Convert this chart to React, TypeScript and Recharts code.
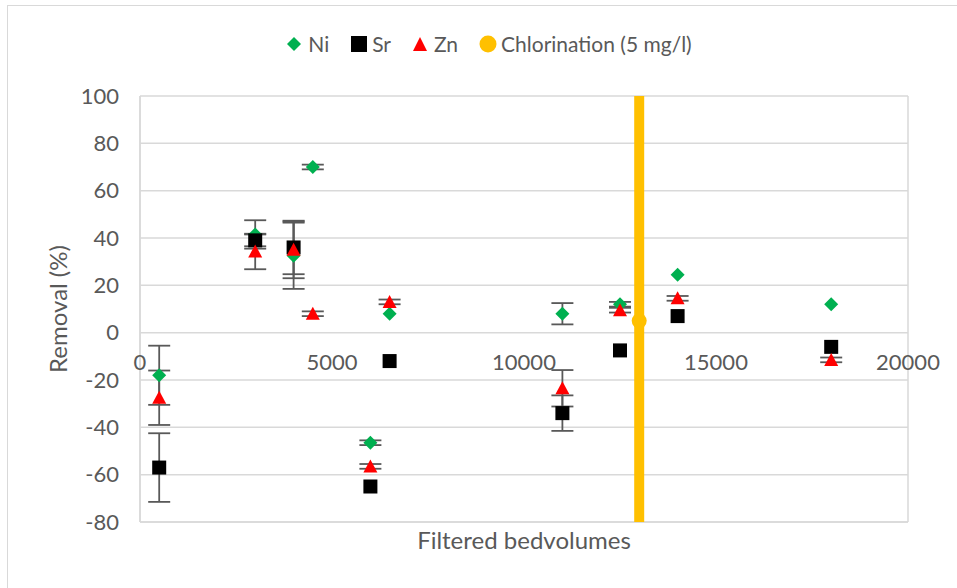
import {
  ScatterChart,
  Scatter,
  XAxis,
  YAxis,
  CartesianGrid,
  ErrorBar,
  ReferenceDot,
} from 'recharts'

// bedvolumes / removal (%) / error (%)
const niBV = [500, 3000, 4000, 4500, 6000, 6500, 11000, 12500, 14000, 18000]
const niRemoval = [-18, 41.5, 32.5, 70, -46.5, 8, 8, 12, 24.5, 12]
const niError = [12.5, 6, 14, 1, 1, 0, 4.5, 1, 0, 0]

const srBV = [500, 3000, 4000, 6000, 6500, 11000, 12500, 14000, 18000]
const srRemoval = [-57, 39, 36, -65, -12, -34, -7.5, 7, -6]
const srError = [14.5, 2.5, 11.3, 0, 0, 7.5, 0, 0, 0]

const znBV = [500, 3000, 4000, 4500, 6000, 6500, 11000, 12500, 14000, 18000]
const znRemoval = [-27.5, 34.3, 35, 8, -56.5, 13, -23.5, 9.5, 14.5, -11.5]
const znError = [11.5, 7.5, 12, 1, 1, 1, 7.7, 1, 1, 1]

const chlorBV = [13000, 13000]
const chlorSpan = [-80, 100]
const chlorMarkBV = [13000]
const chlorMarkRemoval = [5]

const bvTicks = [0, 5000, 10000, 15000, 20000]
const removalTicks = [-80, -60, -40, -20, 0, 20, 40, 60, 80, 100]

const FONT = 'Lato, "Open Sans", sans-serif'
const TEXT = '#595959'
const GRID = '#d9d9d9'

const rows = (xs: number[], ys: number[], es?: number[]) =>
  xs.map((x, i) => ({ x, y: ys[i], err: es ? es[i] : 0 }))

const niData = rows(niBV, niRemoval, niError)
const srData = rows(srBV, srRemoval, srError)
const znData = rows(znBV, znRemoval, znError)
const chlorLine = rows(chlorBV, chlorSpan)
const chlorMark = rows(chlorMarkBV, chlorMarkRemoval)

const Diamond = ({ cx, cy }: any) => (
  <polygon points={`${cx},${cy - 7} ${cx + 7},${cy} ${cx},${cy + 7} ${cx - 7},${cy}`} fill="#00B050" />
)
const Square = ({ cx, cy }: any) => <rect x={cx - 7} y={cy - 7} width={14} height={14} fill="#000000" />
const Triangle = ({ cx, cy }: any) => (
  <polygon points={`${cx},${cy - 7} ${cx + 7},${cy + 6} ${cx - 7},${cy + 6}`} fill="#FF0000" />
)
const Circle = ({ cx, cy }: any) => <circle cx={cx} cy={cy} r={7.5} fill="#FFC000" />
const Nothing = () => <g />

const XTickLabel = ({ viewBox, value }: any) => (
  <text
    x={viewBox.x + viewBox.width / 2}
    y={viewBox.y + 37}
    textAnchor="middle"
    fill={TEXT}
    fontSize={22}
    fontFamily={FONT}
  >
    {value}
  </text>
)

const legendItems = [
  { name: 'Ni', icon: <polygon points="7,1 14,8 7,15 0,8" fill="#00B050" /> },
  { name: 'Sr', icon: <rect x={0} y={0} width={16} height={16} fill="#000" /> },
  { name: 'Zn', icon: <polygon points="7,1 14,15 0,15" fill="#FF0000" /> },
  { name: 'Chlorination (5 mg/l)', icon: <circle cx={8} cy={8} r={8.5} fill="#FFC000" /> },
]

export default function App() {
  return (
    <div
      style={{
        position: 'absolute',
        left: 0,
        top: 0,
        width: 957,
        height: 588,
        overflow: 'hidden',
        background: '#fff',
        fontFamily: FONT,
      }}
    >
      <div
        style={{
          position: 'absolute',
          left: 7,
          top: 5,
          width: 1000,
          height: 700,
          border: `1.5px solid ${GRID}`,
        }}
      />
      <div
        style={{
          position: 'absolute',
          top: 30,
          left: 0,
          width: 957,
          display: 'flex',
          justifyContent: 'center',
          gap: 22,
          color: TEXT,
          fontSize: 21,
          lineHeight: '28px',
          paddingLeft: 22,
          boxSizing: 'border-box',
        }}
      >
        {legendItems.map((it) => (
          <div key={it.name} style={{ display: 'flex', alignItems: 'center', gap: 5 }}>
            <svg width={16} height={16} style={{ overflow: 'visible' }}>
              {it.icon}
            </svg>
            <span>{it.name}</span>
          </div>
        ))}
      </div>
      <ScatterChart
        width={957}
        height={588}
        margin={{ top: 96, right: 49, bottom: 0, left: 80 }}
        style={{ position: 'absolute', left: 0, top: 0 }}
      >
        <CartesianGrid stroke={GRID} strokeWidth={1.5} />
        <XAxis
          type="number"
          dataKey="x"
          domain={[0, 20000]}
          ticks={bvTicks}
          tick={false}
          tickLine={false}
          axisLine={{ stroke: GRID, strokeWidth: 1.5 }}
          height={66}
          label={{
            value: 'Filtered bedvolumes',
            position: 'insideTop',
            offset: 10,
            fill: TEXT,
            fontSize: 24,
            fontFamily: FONT,
          }}
        />
        <YAxis
          type="number"
          dataKey="y"
          domain={[-80, 100]}
          ticks={removalTicks}
          width={60}
          tickLine={false}
          tickSize={0}
          tickMargin={21}
          axisLine={{ stroke: GRID, strokeWidth: 1.5 }}
          tick={{ fill: TEXT, fontSize: 22, fontFamily: FONT }}
          label={{
            value: 'Removal (%)',
            angle: -90,
            position: 'insideLeft',
            offset: -22,
            fill: TEXT,
            fontSize: 24,
            fontFamily: FONT,
            style: { textAnchor: 'middle' },
          }}
        />
        {bvTicks.map((t) => (
          <ReferenceDot key={t} x={t} y={0} r={0} fill="none" stroke="none" label={<XTickLabel value={t} />} />
        ))}
        <Scatter name="Ni" data={niData} shape={Diamond} isAnimationActive={false}>
          <ErrorBar dataKey="err" direction="y" width={11} strokeWidth={1.8} stroke={TEXT} isAnimationActive={false} />
        </Scatter>
        <Scatter name="Sr" data={srData} shape={Square} isAnimationActive={false}>
          <ErrorBar dataKey="err" direction="y" width={11} strokeWidth={1.8} stroke={TEXT} isAnimationActive={false} />
        </Scatter>
        <Scatter name="Zn" data={znData} shape={Triangle} isAnimationActive={false}>
          <ErrorBar dataKey="err" direction="y" width={11} strokeWidth={1.8} stroke={TEXT} isAnimationActive={false} />
        </Scatter>
        <Scatter
          name="Chlorination line"
          data={chlorLine}
          shape={Nothing}
          line={{ stroke: '#FFC000', strokeWidth: 10 }}
          isAnimationActive={false}
        />
        <Scatter name="Chlorination (5 mg/l)" data={chlorMark} shape={Circle} isAnimationActive={false} />
      </ScatterChart>
    </div>
  )
}
